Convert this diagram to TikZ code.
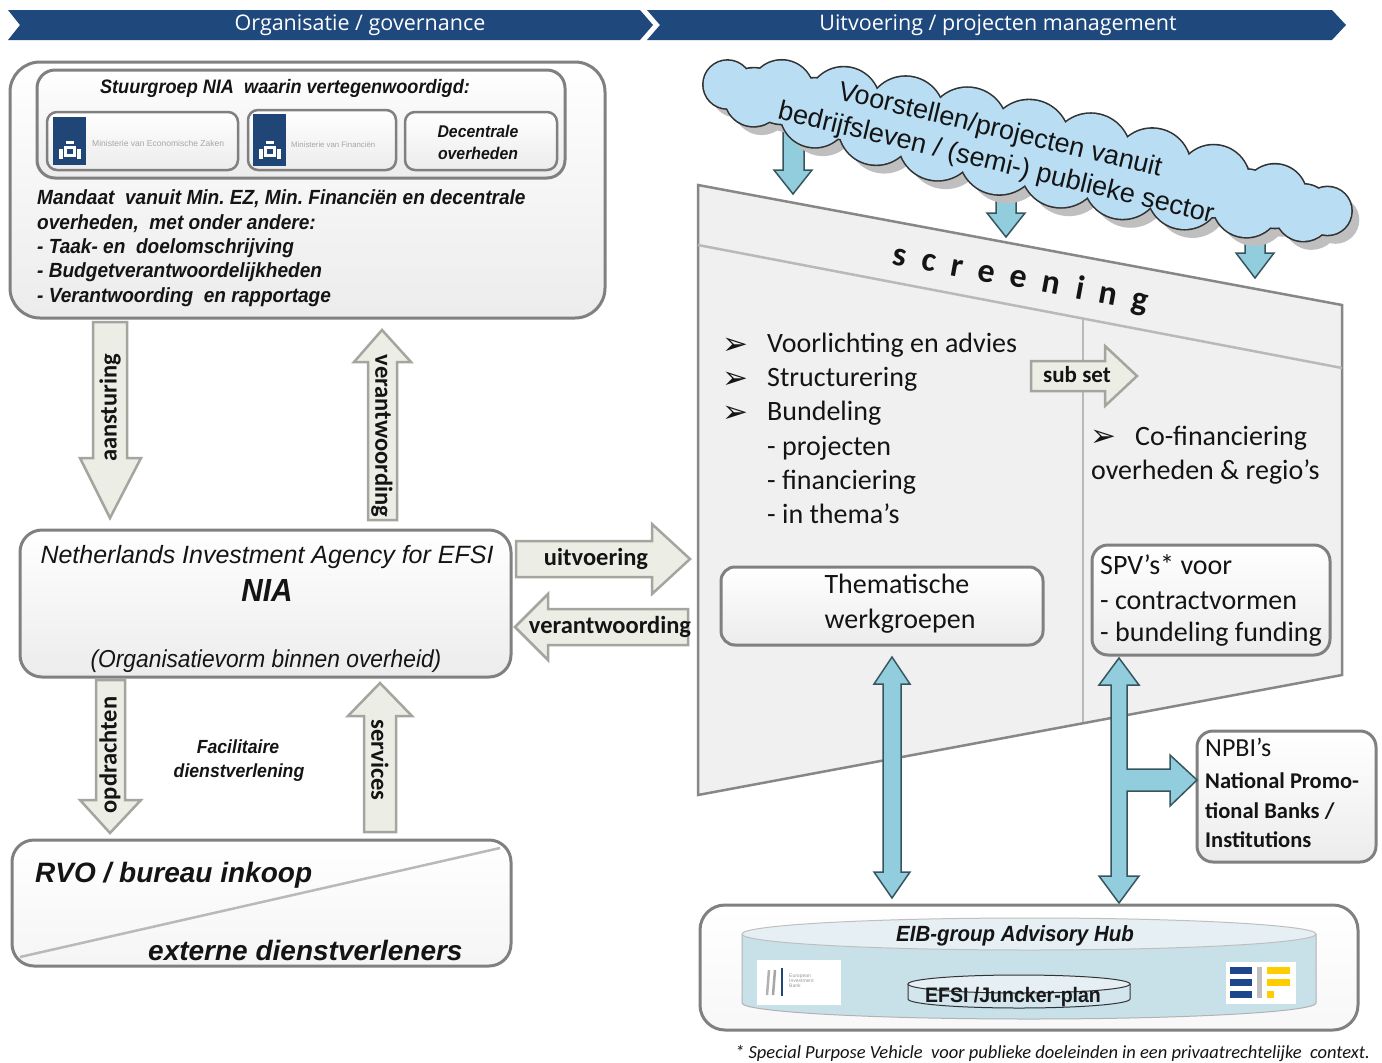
\documentclass[tikz,border=0pt]{standalone}
\usepackage{fontspec}
\setmainfont{Carlito}
\newfontfamily\arc[FakeStretch=0.93]{Liberation Sans}
\newfontfamily\arn{Liberation Sans}
\newfontfamily\osans{Open Sans}
\newfontfamily\dvs{DejaVu Sans}
\definecolor{bannerblue}{RGB}{31,73,125}
\definecolor{boxline}{RGB}{128,128,128}
\definecolor{beige}{RGB}{236,237,228}
\definecolor{beigeline}{RGB}{165,165,160}
\definecolor{tealfill}{RGB}{146,205,221}
\definecolor{tealline}{RGB}{55,85,95}
\definecolor{cloudfill}{RGB}{185,222,244}
\definecolor{cloudline}{RGB}{50,50,50}
\definecolor{panelfill}{RGB}{240,240,240}
\definecolor{panelline}{RGB}{135,135,135}
\definecolor{minblue}{RGB}{32,70,120}
\definecolor{cylfill}{RGB}{200,224,232}
\definecolor{cyltop}{RGB}{230,240,244}
\definecolor{eifblue}{RGB}{30,70,140}
\definecolor{eifyellow}{RGB}{255,204,0}
\definecolor{txt}{RGB}{20,20,20}
\newcommand{\fs}[1]{\fontsize{#1}{#1}\selectfont}
\newcommand{\emblem}[2]{%
  \fill[white] (#1-6,#2-4) rectangle (#1+6,#2+7);
  \fill[white] (#1-11,#2-1) rectangle (#1-7,#2+9);
  \fill[white] (#1+7,#2-1) rectangle (#1+11,#2+9);
  \fill[white] (#1-4,#2-9) rectangle (#1+4,#2-6);
  \fill[minblue] (#1-3,#2-1) rectangle (#1+3,#2+4);}
% cloud made of overlapping puffs; #1 = extra radius, #2 = colour
\newcommand{\cloudpuffs}[2]{%
  \foreach \px/\ps in {-292/-1,-240/-1,-180/-1,-120/-1,-60/-1,0/-1,60/-1,120/-1,180/-1,240/-1,292/-1,
                       -265/1,-205/1,-145/1,-85/1,-25/1,35/1,95/1,155/1,215/1,270/1}{%
    \pgfmathsetmacro\rr{19+21*sqrt(1-(\px/300)^2)+#1}%
    \pgfmathsetmacro\hh{\ps*10*sqrt(1-(\px/300)^2)}%
    \fill[#2] (\px*1.05,\hh) circle[radius=\rr pt];}%
  \pgfmathsetmacro\ea{284+#1}\pgfmathsetmacro\eb{28+#1}%
  \fill[#2] (0,0) ellipse[x radius=\ea pt, y radius=\eb pt];}
\begin{document}
\frenchspacing
\begin{tikzpicture}[x=1pt,y=-1pt,
  box/.style={draw=boxline, line width=3pt, rounded corners=#1, top color=white, bottom color=gray!15, inner sep=0pt, outer sep=0pt},
  barrow/.style={draw=beigeline, line width=2.5pt, fill=beige, line join=miter},
  tarrow/.style={draw=tealline, line width=1.5pt, fill=tealfill, line join=miter},
  arlab/.style={font=\bfseries\fs{24.5}, text=txt, inner sep=0pt},
  lbi/.style={font=\arc\bfseries\itshape\fs{#1}, text=txt, inner sep=0pt},
  rt/.style={font=\fs{28}, text=txt, inner sep=0pt, anchor=base west},
  bul/.style={font=\dvs\fs{31}, text=txt, inner sep=0pt, anchor=base west},
  cloudtext/.style={font=\arn\fs{27}, text=txt, rotate=-13.5, inner sep=0pt}]
\useasboundingbox (0,0) rectangle (1382,1063);
\fill[white] (0,0) rectangle (1382,1063);

% ---------- banner ----------
\fill[bannerblue] (8,10) -- (640,10) -- (653,25) -- (640,40) -- (8,40) -- (20,25) -- cycle;
\fill[bannerblue] (647,10) -- (1332,10) -- (1346,25) -- (1332,40) -- (647,40) -- (660,25) -- cycle;
\node[font=\osans\fs{21.5}, text=white] (hdl) at (360,25) {Organisatie / governance};
\node[font=\osans\fs{21.5}, text=white] (hdr) at (998,25) {Uitvoering / projecten management};

% ---------- governance box ----------
\node[box=30, minimum width=595pt, minimum height=256pt] (gov) at (307.5,190) {};
\node[box=18, minimum width=528pt, minimum height=108pt] (stuur) at (301,124) {};
\node[lbi=19.5, anchor=base] (stuurt) at (285,93) {Stuurgroep NIA\ \ waarin vertegenwoordigd:};
\node[box=10, line width=2.5pt, minimum width=191pt, minimum height=58pt] (min1) at (142.5,141) {};
\fill[minblue] (53,117) rectangle (86,165);
\emblem{69.5}{150}
\node[font=\arn\fs{8.5}, text=gray!70, anchor=west, inner sep=0pt] (min1t) at (92,143) {Ministerie van Economische Zaken};
\node[box=10, line width=2.5pt, minimum width=148pt, minimum height=60pt] (min2) at (322,140) {};
\fill[minblue] (253,114) rectangle (286,166);
\emblem{269.5}{150}
\node[font=\arn\fs{7.8}, text=gray!70, anchor=west, inner sep=0pt] (min2t) at (291,145) {Ministerie van Financiën};
\node[box=10, line width=2.5pt, minimum width=152pt, minimum height=58pt] (dec) at (481,141) {};
\node[lbi=17, anchor=base] (dec1) at (478,137) {Decentrale};
\node[lbi=17, anchor=base] (dec2) at (478,159) {overheden};
\node[lbi=20.5, anchor=base west] (m1) at (37,204) {Mandaat\ \ vanuit Min. EZ, Min. Financiën en decentrale};
\node[lbi=20.5, anchor=base west] (m2) at (37,229) {overheden,\ \ met onder andere:};
\node[lbi=20.5, anchor=base west] (m3) at (37,253) {- Taak- en\ \ doelomschrijving};
\node[lbi=20.5, anchor=base west] (m4) at (37,277) {- Budgetverantwoordelijkheden};
\node[lbi=20.5, anchor=base west] (m5) at (37,302) {- Verantwoording\ \ en rapportage};

% ---------- NIA box ----------
\node[box=22, minimum width=491pt, minimum height=147pt] (nia) at (265.5,603.5) {};
\node[font=\arn\itshape\fs{25}, text=txt, inner sep=0pt, anchor=base] (nia1) at (267,563) {Netherlands Investment Agency for EFSI};
\node[lbi=32, anchor=base] (nia2) at (267,601) {NIA};
\node[font=\arc\itshape\fs{24.5}, text=txt, inner sep=0pt, anchor=base] (nia3) at (266,667) {(Organisatievorm binnen overheid)};

% ---------- RVO box ----------
\node[box=22, bottom color=gray!8, minimum width=499pt, minimum height=126pt] (rvo) at (261.5,903) {};
\draw[gray!55, line width=2.5pt] (20,957) -- (500,848);
\node[font=\arn\bfseries\itshape\fs{28}, text=txt, inner sep=0pt, anchor=base west] (rvo1) at (35,882) {RVO / bureau inkoop};
\node[font=\arn\bfseries\itshape\fs{28}, text=txt, inner sep=0pt, anchor=base west] (rvo2) at (148,960) {externe dienstverleners};

% ---------- left block arrows ----------
\draw[barrow] (93,322) -- (127,322) -- (127,458) -- (141,458) -- (110,518) -- (80,458) -- (93,458) -- cycle;
\node[arlab, rotate=90] (l1) at (110,408) {aansturing};
\draw[barrow] (368,520) -- (397,520) -- (397,362) -- (411,362) -- (382,330) -- (354,362) -- (368,362) -- cycle;
\node[arlab, rotate=-90] (l2) at (382,436) {verantwoording};
\draw[barrow] (516,541) -- (652,541) -- (652,524) -- (690,559) -- (652,594) -- (652,577) -- (516,577) -- cycle;
\node[arlab] (l3) at (596,559) {uitvoering};
\draw[barrow] (688,609) -- (548,609) -- (548,594) -- (515,627) -- (548,660) -- (548,645) -- (688,645) -- cycle;
\node[arlab] (l4) at (610,627) {verantwoording};
\draw[barrow] (96,680) -- (125,680) -- (125,800) -- (141,800) -- (110,833) -- (80,800) -- (96,800) -- cycle;
\node[arlab, rotate=90] (l5) at (110,755) {opdrachten};
\draw[barrow] (364,832) -- (396,832) -- (396,716) -- (412,716) -- (380,683) -- (348,716) -- (364,716) -- cycle;
\node[arlab, rotate=-90] (l6) at (380,760) {services};
\node[lbi=19, anchor=base] (fac1) at (238,753) {Facilitaire};
\node[lbi=19, anchor=base] (fac2) at (239,777) {dienstverlening};

% ---------- screening panel ----------
\draw[fill=panelfill, draw=panelline, line width=2.5pt, line join=miter] (698,185) -- (1342,305) -- (1342,675) -- (698,795) -- cycle;
\draw[gray!55, line width=2.5pt] (698,245) -- (1342,368);
\draw[gray!55, line width=2.5pt] (1083,318) -- (1083,722);
\node[font=\bfseries\fs{34}, text=txt, rotate=-10.5, inner sep=0pt] (scr) at (1021,279) {s\hspace{15.5pt}c\hspace{15.5pt}r\hspace{15.5pt}e\hspace{15.5pt}e\hspace{15.5pt}n\hspace{15.5pt}i\hspace{15.5pt}n\hspace{15.5pt}g};

% ---------- cloud ----------
\draw[tarrow] (783,130) -- (804,130) -- (804,170) -- (812,170) -- (793,194) -- (774,170) -- (783,170) -- cycle;
\draw[tarrow] (996,175) -- (1016,175) -- (1016,213) -- (1025,213) -- (1006,237) -- (987,213) -- (996,213) -- cycle;
\draw[tarrow] (1245,210) -- (1265,210) -- (1265,253) -- (1274,253) -- (1255,278) -- (1236,253) -- (1245,253) -- cycle;
\begin{scope}[shift={(1035,159)}, rotate=-11.9]
  \cloudpuffs{0}{gray!50}
\end{scope}
\begin{scope}[shift={(1027,150)}, rotate=-11.9]
  \cloudpuffs{1.6}{cloudline}
  \cloudpuffs{0}{cloudfill}
\end{scope}
\node[cloudtext] (cloudt1) at (1000,131) {Voorstellen/projecten vanuit};
\node[cloudtext] (cloudt2) at (996,164) {bedrijfsleven / (semi-) publieke sector};

% ---------- left column text ----------
\node[bul] (b1) at (722,354) {➢};
\node[bul] (b2) at (722,388) {➢};
\node[bul] (b3) at (722,422) {➢};
\node[rt] (r1) at (767,352) {Voorlichting en advies};
\node[rt] (r2) at (767,386) {Structurering};
\node[rt] (r3) at (767,420) {Bundeling};
\node[rt] (r4) at (767,455) {- projecten};
\node[rt] (r5) at (767,489) {- financiering};
\node[rt] (r6) at (767,523) {- in thema’s};
\draw[barrow] (1031,361) -- (1105,361) -- (1105,346) -- (1137,376) -- (1105,406) -- (1105,391) -- (1031,391) -- cycle;
\node[font=\bfseries\fs{23}, text=txt, inner sep=0pt] (ss) at (1077,375) {sub set};
\node[bul] (b4) at (1090,446) {➢};
\node[rt] (c1) at (1135,445) {Co-financiering};
\node[rt] (c2) at (1091,479) {overheden \& regio’s};

\node[box=14, minimum width=322pt, minimum height=78pt] (them) at (882,606) {};
\node[rt, anchor=base] (th1) at (897,593) {Thematische};
\node[rt, anchor=base] (th2) at (900,628) {werkgroepen};
\node[box=16, minimum width=238pt, minimum height=110pt] (spv) at (1211,600) {};
\node[rt] (s1) at (1100,574) {SPV’s* voor};
\node[rt] (s2) at (1100,609) {- contractvormen};
\node[rt] (s3) at (1100,641) {- bundeling funding};

% ---------- NPBI ----------
\node[box=16, minimum width=179pt, minimum height=131pt] (npbi) at (1286.5,796.5) {};
\node[font=\fs{26}, text=txt, inner sep=0pt, anchor=base west] (n1) at (1205,756) {NPBI’s};
\node[font=\bfseries\fs{22.5}, text=txt, inner sep=0pt, anchor=base west] (n2) at (1205,788) {National Promo-};
\node[font=\bfseries\fs{22.5}, text=txt, inner sep=0pt, anchor=base west] (n3) at (1205,818) {tional Banks /};
\node[font=\bfseries\fs{22.5}, text=txt, inner sep=0pt, anchor=base west] (n4) at (1205,847) {Institutions};

% ---------- teal double arrows ----------
\draw[tarrow] (892,657) -- (910,684) -- (901,684) -- (901,872) -- (910,872) -- (892,898) -- (874,872) -- (883,872) -- (883,684) -- (874,684) -- cycle;
\draw[tarrow] (1119,658) -- (1139,685) -- (1127,685) -- (1127,769) -- (1170,769) -- (1170,755) -- (1197,780) -- (1170,806) -- (1170,791) -- (1127,791) -- (1127,876) -- (1139,876) -- (1119,903) -- (1099,876) -- (1111,876) -- (1111,685) -- (1099,685) -- cycle;

% ---------- EIB hub ----------
\node[box=25, bottom color=gray!6, minimum width=658pt, minimum height=125pt] (eib) at (1029,967.5) {};
\fill[cylfill] (742,934) -- (742,1003) arc[start angle=180, end angle=360, x radius=287pt, y radius=16pt] -- (1316,934) -- cycle;
\draw[gray!60, line width=1pt] (742,934) -- (742,1003) arc[start angle=180, end angle=360, x radius=287pt, y radius=16pt] -- (1316,934);
\draw[fill=cyltop, draw=gray!50, line width=1pt] (1029,934) ellipse [x radius=287pt, y radius=16pt];
\node[font=\arc\bfseries\itshape\fs{22}, text=txt, inner sep=0pt, anchor=base] (eibt) at (1015,941) {EIB-group Advisory Hub};
% EIB logo
\fill[white] (757,960) rectangle (841,1005);
\draw[gray!60, line width=2.5pt] (769,970) -- (767,995);
\draw[gray!70, line width=2.5pt] (775,970) -- (773,995);
\draw[minblue, line width=2.5pt] (782,968) -- (782,996);
\node[font=\arn\fs{5}, text=gray!80, align=left, anchor=west, inner sep=0pt] (eiblogo) at (789,981) {European\\Investment\\Bank};
% EIF logo
\fill[white] (1226,962) rectangle (1296,1004);
\fill[eifblue] (1230,967) rectangle (1252,974);
\fill[eifblue] (1230,979) rectangle (1252,986);
\fill[eifblue] (1230,991) rectangle (1252,998);
\fill[gray!50] (1257,967) rectangle (1262,998);
\fill[eifyellow] (1267,967) rectangle (1290,974);
\fill[eifyellow] (1267,979) rectangle (1290,986);
\fill[eifyellow] (1267,991) rectangle (1274,998);
% small cylinder
\fill[cylfill!80!white] (908,984) -- (908,999) arc[start angle=180, end angle=360, x radius=111pt, y radius=9pt] -- (1130,984) -- cycle;
\draw[gray!40!black, line width=1pt] (908,984) -- (908,999) arc[start angle=180, end angle=360, x radius=111pt, y radius=9pt] -- (1130,984);
\draw[fill=cyltop, draw=gray!40!black, line width=1pt] (1019,984) ellipse [x radius=111pt, y radius=9pt];
\node[font=\arc\bfseries\fs{21}, text=gray!20!black, inner sep=0pt, anchor=base] (efsi) at (1013,1002) {EFSI /Juncker-plan};

% ---------- footnote ----------
\node[font=\itshape\fs{18.5}, text=txt, inner sep=0pt, anchor=base east] (foot) at (1370,1058) {* Special Purpose Vehicle\ \ voor publieke doeleinden in een privaatrechtelijke\ \ context.};
\end{tikzpicture}
\end{document}
